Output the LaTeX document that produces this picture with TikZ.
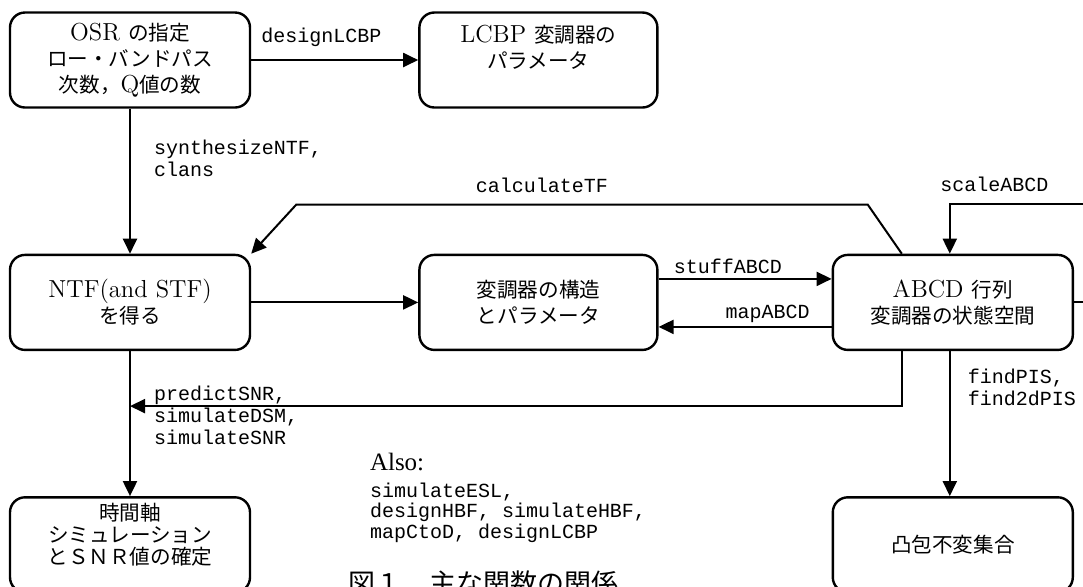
\documentclass[tikz,border=0pt]{standalone}
\usepackage{fontspec}
\setmonofont{Liberation Mono}
\newfontfamily\jpfont{Noto Sans CJK JP}
\newfontfamily\timesfont{Liberation Serif}
\newcommand{\jp}[1]{{\jpfont\fontsize{10.3}{13}\selectfont #1}}
\usetikzlibrary{arrows.meta,positioning}

\begin{document}
\begin{tikzpicture}[
        >={Triangle[length=7.5pt,width=7pt]},
        line width=1pt,
        block/.style={draw, rectangle, rounded corners=7.5pt, line width=1.2pt, minimum width=120pt, minimum height=47.5pt, inner sep=0pt, align=center, font=\fontsize{12.3}{13}\selectfont},
        func/.style={font=\ttfamily\fontsize{10}{11}\selectfont, inner sep=1.5pt, align=left}
    ]
        \useasboundingbox (0,0) rectangle (541.5pt,-293pt);

        % Nodes
        \node (osr) [block] at (65pt,-30pt) {OSR \jp{の指定}\\ \jp{ロー・バンドパス}\\ \jp{次数，}Q\jp{値の数}};
        \node (lcbp) [block, minimum width=119pt, right=83.5pt of osr] {LCBP \jp{変調器の}\\ \jp{パラメータ}\\ \mbox{}};
        \node (ntf) [block, below=72.5pt of osr] {NTF(and STF)\\ \jp{を得る}};
        \node (mod) [block, minimum width=119pt, right=83.5pt of ntf] {\jp{変調器の構造}\\ \jp{とパラメータ}};
        \node (abcd) [block, right=86.5pt of mod] {ABCD \jp{行列}\\ \jp{変調器の状態空間}};
        \node (time) [block, below=72.5pt of ntf, font=\jpfont\fontsize{10.3}{11}\selectfont] {時間軸\\ シミュレーション\\ とＳＮＲ値の確定\\ \mbox{}};
        \node (convex) [block, below=72.5pt of abcd, font=\jpfont\fontsize{10.3}{13}\selectfont] {凸包不変集合};

        % Free ends at the right border
        \coordinate (scalein) at (541.5pt,-102pt);
        \coordinate (loopout) at (abcd.east -| scalein);

        % Connections
        \draw[->] (osr) -- (lcbp) node[func, pos=0.42, above=4.5pt] {designLCBP};
        \draw[->] (osr) -- (ntf) node[func, pos=0.34, right=10pt] {synthesizeNTF,\\clans};
        \draw[->] ([xshift=-25.5pt]abcd.north) -- ++(-17pt,24.5pt)
            -- ([shift={(22.5pt,24.5pt)}]ntf.north east) node[func, pos=0.57, above=3.8pt] {calculateTF}
            -- (ntf.north east);
        \draw[->] (scalein) -| ([xshift=-1.5pt]abcd.north) node[func, pos=0.333, above=4pt] {scaleABCD};
        \draw (abcd.east) -- (loopout);
        \draw[->] (ntf) -- (mod);
        \draw[->] ([yshift=11.75pt]mod.east) -- ([yshift=11.75pt]abcd.west) node[func, pos=0.4, above=0.5pt] {stuffABCD};
        \draw[->] ([yshift=-12.25pt]abcd.west) -- ([yshift=-12.25pt]mod.east) node[func, pos=0.37, above=0pt] {mapABCD};
        \draw[->] ([xshift=-25.5pt]abcd.south) |- ([yshift=-27.5pt]ntf.south)
            node[func, pos=0.987, anchor=west, yshift=-4.5pt] {predictSNR,\\simulateDSM,\\simulateSNR};
        \draw[->] (ntf) -- (time);
        \draw[->] ([xshift=-1.5pt]abcd.south) -- ([xshift=-1.5pt]convex.north) node[func, pos=0.25, right=7pt] {findPIS,\\find2dPIS};

        % Other functions and caption
        \node (also) [anchor=west, inner sep=0pt, font=\timesfont\fontsize{12.5}{14}\selectfont] at (184.5pt,-231pt) {Also:};
        \node (alsolist) [func, inner sep=0pt, font=\ttfamily\fontsize{10}{8.75}\selectfont, below=5pt of also.south west, anchor=north west] {simulateESL,\\designHBF, simulateHBF,\\mapCtoD, designLCBP};
        \node (caption) [anchor=west, inner sep=0pt, font=\jpfont\fontsize{13.5}{16}\selectfont] at (173.5pt,-291.5pt) {図１　主な関数の関係};

    \end{tikzpicture}
\end{document}
